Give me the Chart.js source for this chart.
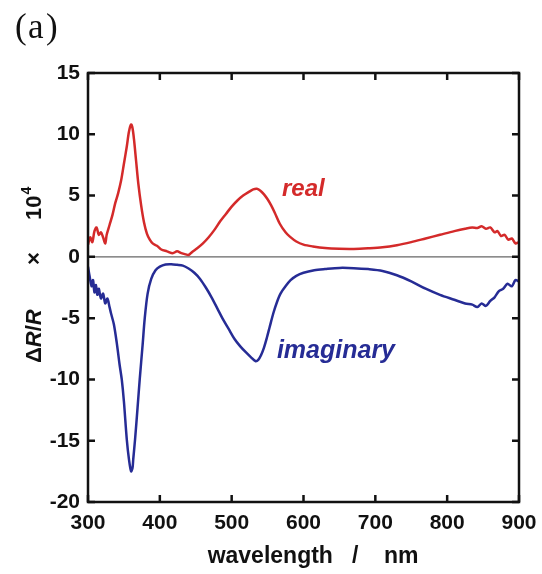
<!DOCTYPE html>
<html>
<head>
<meta charset="utf-8">
<script src="https://cdn.jsdelivr.net/npm/chart.js@4.4.1/dist/chart.umd.min.js"></script>
<style>
  html, body { margin: 0; padding: 0; background: #fff; }
  #wrap { width: 542px; height: 574px; }
</style>
</head>
<body>
<div id="wrap"><canvas id="spec" width="542" height="574"></canvas></div>
<script>
// spectra (x in nm, y in dR/R x 10^4)
const realWl = [300, 303, 306, 309, 312, 315, 318, 321, 324, 326, 330, 334, 338, 342, 346, 350, 354, 357, 360, 362, 364, 367, 370, 374, 378, 382, 386, 390, 396, 402, 410, 418, 424, 430, 436, 440, 445, 452, 460, 468, 476, 484, 492, 500, 508, 516, 524, 530, 535, 540, 545, 550, 555, 560, 567, 575, 581, 590, 600, 613, 630, 650, 670, 690, 710, 730, 750, 770, 790, 810, 825, 835, 842, 848, 854, 860, 866, 870, 875, 880, 885, 890, 895, 900];
const realVal = [1.0, 1.6, 1.2, 2.1, 2.4, 1.8, 2.0, 1.6, 1.1, 1.8, 2.6, 3.4, 4.4, 5.2, 6.2, 7.6, 9.0, 10.2, 10.8, 10.5, 9.6, 7.8, 6.0, 4.2, 2.8, 1.9, 1.4, 1.1, 0.9, 0.6, 0.45, 0.3, 0.45, 0.3, 0.2, 0.15, 0.4, 0.7, 1.1, 1.6, 2.2, 2.9, 3.5, 4.1, 4.6, 5.0, 5.3, 5.5, 5.55, 5.4, 5.1, 4.7, 4.2, 3.6, 2.7, 2.0, 1.65, 1.25, 1.0, 0.85, 0.72, 0.66, 0.65, 0.7, 0.78, 0.95, 1.2, 1.5, 1.8, 2.1, 2.3, 2.4, 2.35, 2.5, 2.3, 2.4, 2.0, 2.1, 1.7, 1.8, 1.4, 1.5, 1.1, 1.2];

const imagWl = [300, 302, 305, 307, 309, 311, 313, 315, 318, 321, 324, 327, 330, 332, 336, 340, 344, 347, 350, 354, 357, 360, 362, 363, 365.5, 369, 372, 376, 379, 383, 388, 394, 400, 408, 416, 424, 432, 440, 448, 456, 464, 472, 480, 488, 496, 504, 512, 520, 527, 533, 537, 541, 545, 549, 553, 558, 563, 568, 575, 582, 590, 600, 615, 630, 650, 670, 690, 710, 730, 750, 770, 790, 810, 825, 835, 842, 848, 854, 860, 866, 872, 878, 884, 890, 895, 900];
const imagVal = [-0.8, -1.5, -2.4, -1.9, -2.9, -2.3, -3.1, -2.6, -3.4, -3.0, -3.8, -3.4, -4.1, -4.6, -5.5, -7.0, -8.8, -10.0, -11.8, -14.9, -16.5, -17.5, -17.2, -16.5, -14.9, -12.3, -10.0, -7.2, -5.0, -3.0, -1.8, -1.1, -0.8, -0.62, -0.6, -0.65, -0.72, -0.95, -1.3, -1.8, -2.5, -3.3, -4.2, -5.1, -5.9, -6.7, -7.3, -7.8, -8.2, -8.5, -8.4, -8.0, -7.4, -6.6, -5.7, -4.6, -3.7, -3.0, -2.4, -1.9, -1.55, -1.3, -1.1, -1.0, -0.9, -0.92, -1.0, -1.15, -1.5, -2.0, -2.6, -3.1, -3.5, -3.8, -3.9, -4.1, -3.8, -4.0, -3.6, -3.3, -2.8, -2.6, -2.2, -2.4, -1.9, -2.0];

const xTicks = [300, 400, 500, 600, 700, 800, 900];
const yTicks = [-20, -15, -10, -5, 0, 5, 10, 15];

const redCol = "#d42a2a";
const blueCol = "#262c95";
const fontFam = "'Liberation Sans', Arial, sans-serif";

function toPoints(xs, ys) {
  return xs.map((x, i) => ({ x: x, y: ys[i] }));
}

// frame, inward ticks, zero line and the hand-set texts
const decor = {
  id: "decor",
  beforeDatasetsDraw(chart) {
    const { ctx, chartArea: a, scales } = chart;
    const y0 = scales.y.getPixelForValue(0);
    ctx.save();
    ctx.strokeStyle = "#666";
    ctx.lineWidth = 1.2;
    ctx.beginPath();
    ctx.moveTo(a.left, y0);
    ctx.lineTo(a.right, y0);
    ctx.stroke();
    ctx.restore();
  },
  afterDraw(chart) {
    const { ctx, chartArea: a, scales } = chart;
    ctx.save();
    ctx.strokeStyle = "#111";
    ctx.lineWidth = 2.5;
    ctx.strokeRect(a.left, a.top, a.right - a.left, a.bottom - a.top);
    const tl = 7;
    ctx.beginPath();
    xTicks.forEach((v) => {
      const px = scales.x.getPixelForValue(v);
      ctx.moveTo(px, a.bottom); ctx.lineTo(px, a.bottom - tl);
      ctx.moveTo(px, a.top); ctx.lineTo(px, a.top + tl);
    });
    yTicks.forEach((v) => {
      const py = scales.y.getPixelForValue(v);
      ctx.moveTo(a.left, py); ctx.lineTo(a.left + tl, py);
      ctx.moveTo(a.right, py); ctx.lineTo(a.right - tl, py);
    });
    ctx.stroke();

    // series labels
    ctx.font = "italic bold 24px " + fontFam;
    ctx.textBaseline = "alphabetic";
    ctx.textAlign = "left";
    ctx.fillStyle = redCol;
    ctx.fillText("real", scales.x.getPixelForValue(570), scales.y.getPixelForValue(4.98));
    ctx.fillStyle = blueCol;
    ctx.font = "italic bold 25px " + fontFam;
    ctx.fillText("imaginary", scales.x.getPixelForValue(563), scales.y.getPixelForValue(-8.24));

    // panel tag
    ctx.fillStyle = "#111";
    ctx.font = "35px 'Liberation Serif', 'Times New Roman', serif";
    ctx.fillText("(", 15, 38);
    ctx.fillText("a", 28, 38);
    ctx.fillText(")", 46, 38);

    // y title: ΔR/R × 10^4, rotated, read from bottom up
    ctx.translate(35, 363);
    ctx.rotate(-Math.PI / 2);
    ctx.textBaseline = "middle";
    const bold = "bold 22px " + fontFam;
    const ital = "italic bold 22px " + fontFam;
    const parts = [["Δ", bold], ["R", ital], ["/", bold], ["R", ital]];
    let x = 0;
    parts.forEach((p) => {
      ctx.font = p[1];
      ctx.fillText(p[0], x, 0);
      x += ctx.measureText(p[0]).width;
    });
    ctx.font = bold;
    ctx.fillText("×", 98, 0);
    ctx.fillText("10", 143, 0);
    const w10 = ctx.measureText("10").width;
    ctx.font = "bold 14px " + fontFam;
    ctx.fillText("4", 143 + w10 + 1, -8);
    ctx.restore();
  },
};

new Chart(document.getElementById("spec"), {
  type: "line",
  data: {
    datasets: [
      {
        label: "real",
        data: toPoints(realWl, realVal),
        borderColor: redCol,
        borderWidth: 2.5,
        pointRadius: 0,
        tension: 0.3,
      },
      {
        label: "imaginary",
        data: toPoints(imagWl, imagVal),
        borderColor: blueCol,
        borderWidth: 2.5,
        pointRadius: 0,
        tension: 0.3,
      },
    ],
  },
  options: {
    responsive: false,
    animation: false,
    layout: { padding: { left: 0, top: 73, right: 23, bottom: 0 } },
    plugins: {
      legend: { display: false },
      tooltip: { enabled: false },
    },
    scales: {
      x: {
        type: "linear",
        min: 300,
        max: 900,
        afterBuildTicks: (s) => { s.ticks = xTicks.map((v) => ({ value: v })); },
        afterFit: (s) => {
          s.height = 72;
          s.paddingLeft = 0;
          s.paddingRight = 0;
        },
        grid: { display: false, drawTicks: false },
        border: { display: false },
        ticks: {
          color: "#111",
          padding: 9,
          font: { family: fontFam, size: 21, weight: "bold" },
        },
        title: {
          display: true,
          text: "   wavelength   /    nm",
          color: "#111",
          padding: { top: 0, bottom: 4 },
          font: { family: fontFam, size: 23, weight: "bold" },
        },
      },
      y: {
        type: "linear",
        min: -20,
        max: 15,
        afterBuildTicks: (s) => { s.ticks = yTicks.map((v) => ({ value: v })); },
        afterFit: (s) => { s.width = 88; },
        grid: { display: false, drawTicks: false },
        border: { display: false },
        ticks: {
          color: "#111",
          padding: 8,
          font: { family: fontFam, size: 21, weight: "bold" },
        },
      },
    },
  },
  plugins: [decor],
});
</script>
</body>
</html>
